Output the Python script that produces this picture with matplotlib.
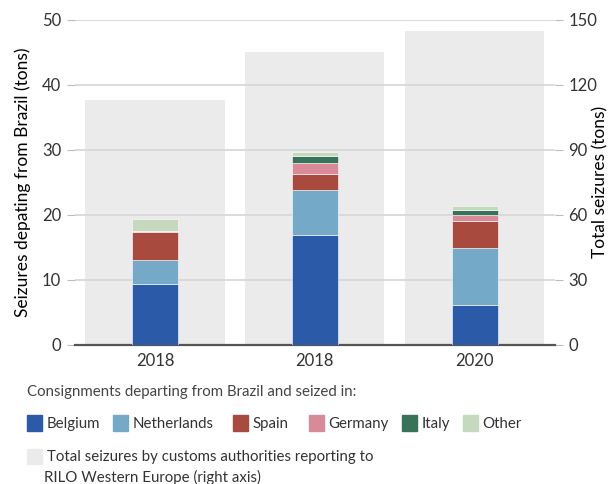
import numpy as np
import matplotlib.pyplot as plt
from matplotlib.patches import Patch

plt.rcParams['font.family'] = ['Lato', 'DejaVu Sans']

years = ['2018', '2018', '2020']
countries = ['Belgium', 'Netherlands', 'Spain', 'Germany', 'Italy', 'Other']
belgium = [9.4, 16.9, 6.1]
netherlands = [3.6, 6.9, 8.8]
spain = [4.3, 2.5, 4.2]
germany = [0.2, 1.7, 0.8]
italy = [0.0, 1.0, 0.8]
other = [1.8, 0.7, 0.6]
total_seizures = [113, 135, 145]

colors = ['#2a5aa8', '#74aac8', '#a84b3e', '#d98a99', '#367358', '#c6d9be']
gray = '#ebebeb'
text_col = '#333333'

fig = plt.figure(figsize=(6.15, 4.84), dpi=100)
ax = fig.add_axes([0.122, 0.288, 0.780, 0.671])
ax2 = ax.twinx()

x = np.arange(len(years))
ax2.bar(x, total_seizures, width=0.87, color=gray, zorder=1)
ax2.set_ylim(0, 150)
ax2.set_yticks(np.arange(0, 151, 30))

ax.set_zorder(ax2.get_zorder() + 1)
ax.patch.set_visible(False)

bottom = np.zeros(len(years))
for name, vals, c in zip(countries, [belgium, netherlands, spain, germany, italy, other], colors):
    ax.bar(x, vals, bottom=bottom, width=0.29, color=c, edgecolor='white',
           linewidth=0.4, zorder=3, label=name)
    bottom += np.array(vals)

ax.set_ylim(0, 50)
ax.set_xlim(-0.5, 2.5)
ax.set_yticks(np.arange(0, 51, 10))
ax.set_xticks(x)
ax.set_xticklabels(years)
ax.yaxis.grid(True, color='#d6d6d6', linewidth=1.2, zorder=0)
ax.set_axisbelow(True)

for a in (ax, ax2):
    for s in a.spines.values():
        s.set_visible(False)
    a.tick_params(axis='y', length=6, color='#bbbbbb', labelsize=12, labelcolor=text_col, pad=4)
    a.tick_params(axis='x', length=0, labelsize=12, labelcolor=text_col, pad=6)
ax.spines['bottom'].set_visible(True)
ax.spines['bottom'].set_color('#555555')
ax.spines['bottom'].set_linewidth(1.6)

ax.set_ylabel('Seizures depating from Brazil (tons)', fontsize=12.5, color='black', labelpad=8)
ax2.set_ylabel('Total seizures (tons)', fontsize=12.5, color='black',
               rotation=90, va='center', ha='center')
ax2.yaxis.set_label_coords(1.096, 0.5)

# legend title and one legend per entry, placed like the reference
fs = 10.8
fig.text(0.044, 0.19, 'Consignments departing from Brazil and seized in:',
         fontsize=fs, color='#444444', va='center', ha='left')
leg_x = [0.044, 0.184, 0.379, 0.502, 0.654, 0.753]
for name, c, lx in zip(countries, colors, leg_x):
    fig.legend([Patch(color=c)], [name], loc='center left', bbox_to_anchor=(lx, 0.126),
               frameon=False, fontsize=fs, handlelength=1.0, handleheight=1.2,
               handletextpad=0.3, labelcolor=text_col, borderaxespad=0, borderpad=0)

fig.legend([Patch(color=gray)], ['Total seizures by customs authorities reporting to'],
           loc='center left', bbox_to_anchor=(0.044, 0.057), frameon=False, fontsize=fs,
           handlelength=1.0, handleheight=1.2, handletextpad=0.3, labelcolor=text_col,
           borderaxespad=0, borderpad=0)
fig.text(0.0715, 0.014, 'RILO Western Europe (right axis)', fontsize=fs,
         color=text_col, va='center', ha='left')

fig.savefig('out.png', dpi=100)
